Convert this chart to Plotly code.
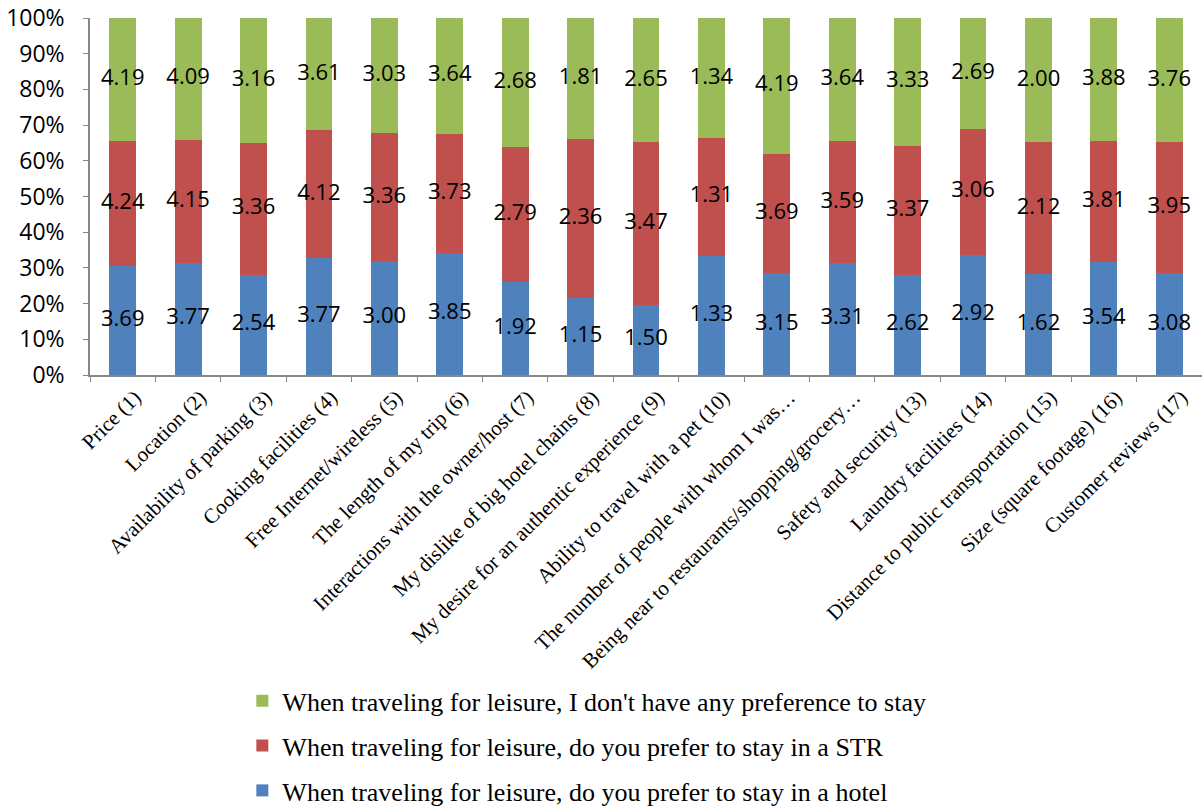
import plotly.graph_objects as go

categories = [
    "Price (1)", "Location (2)", "Availability of parking (3)", "Cooking facilities (4)",
    "Free Internet/wireless (5)", "The length of my trip (6)", "Interactions with the owner/host (7)",
    "My dislike of big hotel chains (8)", "My desire for an authentic experience (9)",
    "Ability to travel with a pet (10)", "The number of people with whom I was…",
    "Being near to restaurants/shopping/grocery…", "Safety and security (13)",
    "Laundry facilities (14)", "Distance to public transportation (15)",
    "Size (square footage) (16)", "Customer reviews (17)",
]
hotel = [3.69, 3.77, 2.54, 3.77, 3.00, 3.85, 1.92, 1.15, 1.50, 1.33, 3.15, 3.31, 2.62, 2.92, 1.62, 3.54, 3.08]
str_ = [4.24, 4.15, 3.36, 4.12, 3.36, 3.73, 2.79, 2.36, 3.47, 1.31, 3.69, 3.59, 3.37, 3.06, 2.12, 3.81, 3.95]
nopref = [4.19, 4.09, 3.16, 3.61, 3.03, 3.64, 2.68, 1.81, 2.65, 1.34, 4.19, 3.64, 3.33, 2.69, 2.00, 3.88, 3.76]
series_names = [
    "When traveling for leisure, do you prefer to stay in a hotel",
    "When traveling for leisure, do you prefer to stay in a STR",
    "When traveling for leisure, I don't have any preference to stay",
]
colors = ["#4F81BD", "#C0504D", "#9BBB59"]
legend_ranks = [3, 2, 1]
tick_vals = [0, 10, 20, 30, 40, 50, 60, 70, 80, 90, 100]
tick_text = [f"{v}%" for v in tick_vals]

fig = go.Figure()
series = [hotel, str_, nopref]
for k, (vals, name, col) in enumerate(zip(series, series_names, colors)):
    fig.add_trace(go.Bar(x=categories, y=vals, name=name, legendgroup=f"g{k}",
                         legendrank=legend_ranks[k],
                         marker=dict(color=col, line=dict(width=0)), hoverinfo="skip"))

# labels centred in each normalized segment
totals = [a + b + c for a, b, c in zip(hotel, str_, nopref)]
base = [0.0] * len(categories)
for vals in series:
    ys = []
    for i, v in enumerate(vals):
        pct = v / totals[i] * 100
        ys.append(base[i] + pct / 2)
        base[i] += pct
    fig.add_trace(go.Scatter(x=categories, y=ys, mode="text", text=[f"{v:.2f}" for v in vals],
                             textfont=dict(family="Open Sans, sans-serif", size=22, color="black"),
                             showlegend=False, hoverinfo="skip", cliponaxis=False))

fig.update_layout(
    barmode="stack", barnorm="percent", bargap=0.59,
    width=1202, height=810,
    margin=dict(l=90, r=0, t=18, b=435, autoexpand=False),
    paper_bgcolor="white", plot_bgcolor="white",
    hovermode=False,
    legend=dict(traceorder="grouped", orientation="v", x=0.137, xanchor="left", y=-0.847, yanchor="top",
                font=dict(family="Liberation Serif, Times New Roman, serif", size=26, color="black"),
                tracegroupgap=8, itemwidth=30),
    showlegend=True,
)
fig.update_yaxes(range=[0, 100], tickvals=tick_vals, ticktext=tick_text, showgrid=False,
                 showline=True, linecolor="#868686", linewidth=1.5, ticks="outside", ticklen=5,
                 tickcolor="#868686", tickfont=dict(family="Open Sans, sans-serif", size=23, color="black"),
                 ticklabelstandoff=14, ticklabeloverflow="allow", zeroline=False, automargin=False)
fig.update_xaxes(range=[-0.5, len(categories) - 0.5],
                 showline=True, linecolor="#868686", linewidth=1.5, ticks="outside", ticklen=5,
                 tickcolor="#868686", tickson="boundaries", tickangle=-45, ticklabelshift=12,
                 tickfont=dict(family="Liberation Serif, Times New Roman, serif", size=21, color="black"),
                 showgrid=False, automargin=False)

fig.write_html("out.html", post_script="document.body.style.margin='0';",
               config={"displayModeBar": False})
